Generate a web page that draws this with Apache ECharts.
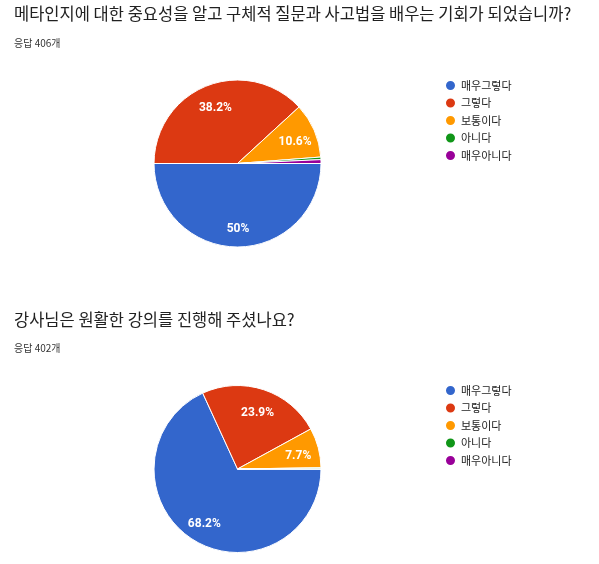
<!DOCTYPE html>
<html>
<head>
<meta charset="utf-8">
<script src="https://cdn.jsdelivr.net/npm/echarts@6/dist/echarts.min.js"></script>
<style>
  html, body { margin: 0; padding: 0; background: #fff; }
  #main { width: 599px; height: 564px; }
</style>
</head>
<body>
<div id="main"></div>
<script>
// 응답 항목
var answers = ['매우그렇다', '그렇다', '보통이다', '아니다', '매우아니다'];
var colors = ['#3366cc', '#dc3912', '#ff9900', '#109618', '#990099'];

// 문항 1
var q1Title = '메타인지에 대한 중요성을 알고 구체적 질문과 사고법을 배우는 기회가 되었습니까?';
var q1Sub = '응답 406개';
var q1Counts = [203, 155, 43, 2, 3];

// 문항 2
var q2Title = '강사님은 원활한 강의를 진행해 주셨나요?';
var q2Sub = '응답 402개';
var q2Counts = [274, 96, 31, 1, 0];

var font = "'Noto Sans CJK KR', Roboto, sans-serif";
var R = 83.5;

function toData(counts) {
    return answers.map(function (name, i) {
        return { name: name, value: counts[i] };
    });
}

function pctLabel(counts) {
    var total = counts.reduce(function (a, b) { return a + b; }, 0);
    return function (p) {
        var pct = p.value / total * 100;
        if (pct < 5) return '';
        return (+pct.toFixed(1)) + '%';
    };
}

// 원그래프 + 라벨용 투명 링 (라벨 위치만 조금 아래로)
function pieSeries(counts, cy) {
    return [{
        type: 'pie',
        center: [237.5, cy],
        radius: [0, R],
        startAngle: 0,
        clockwise: true,
        label: { show: false },
        labelLine: { show: false },
        itemStyle: { borderColor: '#fff', borderWidth: 1 },
        emphasis: { disabled: true },
        data: toData(counts)
    }, {
        type: 'pie',
        center: [238, cy + 3],
        radius: [R * 0.42, R],
        startAngle: 0,
        clockwise: true,
        silent: true,
        avoidLabelOverlap: false,
        itemStyle: { color: 'transparent', borderWidth: 0 },
        labelLine: { show: false },
        emphasis: { disabled: true },
        label: {
            show: true,
            position: 'inside',
            color: '#fff',
            fontFamily: 'Roboto, sans-serif',
            fontSize: 12,
            fontWeight: 'bold',
            formatter: pctLabel(counts)
        },
        data: toData(counts)
    }];
}

function legendAt(top) {
    return {
        orient: 'vertical',
        left: 444,
        top: top,
        padding: 0,
        icon: 'circle',
        itemWidth: 11,
        itemHeight: 11,
        itemGap: 4.5,
        itemTextGap: 5,
        selectedMode: false,
        textStyle: { fontFamily: font, fontSize: 11, color: '#222', lineHeight: 12 },
        data: answers
    };
}

function titleAt(text, top, size, color) {
    return {
        text: text,
        left: 14,
        top: top,
        padding: 0,
        textStyle: { fontFamily: font, fontSize: size, fontWeight: 'normal', color: color, lineHeight: 20 }
    };
}

var chart = echarts.init(document.getElementById('main'));
var option = {
    animation: false,
    color: colors,
    title: [
        titleAt(q1Title, 4, 16.5, '#212121'),
        titleAt(q1Sub, 33, 10, '#333'),
        titleAt(q2Title, 310, 16.5, '#212121'),
        titleAt(q2Sub, 338, 10, '#333')
    ],
    legend: [legendAt(79), legendAt(384)],
    series: pieSeries(q1Counts, 163.5).concat(pieSeries(q2Counts, 469))
};
chart.setOption(option);
</script>
</body>
</html>
